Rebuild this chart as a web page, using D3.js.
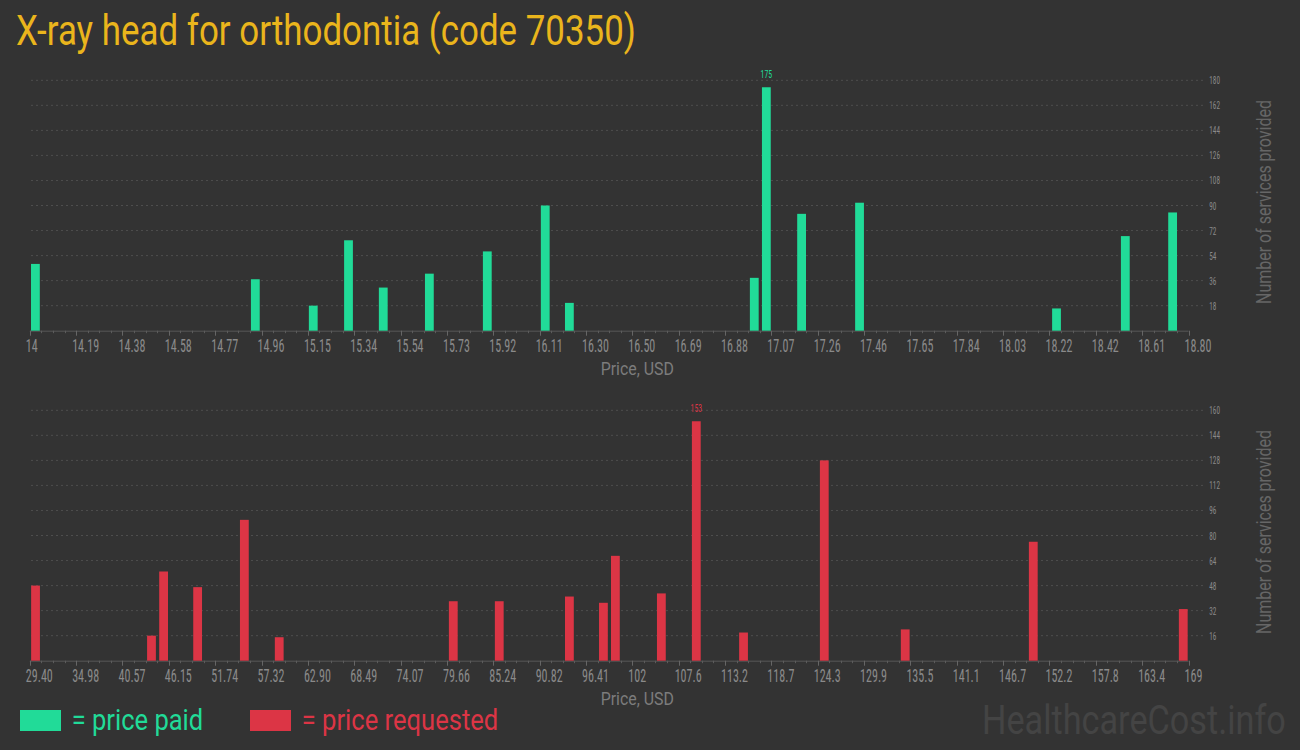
<!DOCTYPE html>
<html>
<head>
<meta charset="utf-8">
<script src="https://cdn.jsdelivr.net/npm/d3@7"></script>
<style>
  html, body { margin: 0; padding: 0; background: #333333; }
  svg { display: block; }
</style>
</head>
<body>
<script>
// ---------------- DATA ----------------
const titleText = "X-ray head for orthodontia (code 70350)";

const paidPrices = [14.005, 14.916, 15.156, 15.302, 15.446, 15.637, 15.877, 16.117, 16.217, 16.983, 17.033, 17.179, 17.419, 18.235, 18.52, 18.716];
const paidCounts = [48, 37, 18, 65, 31, 41, 57, 90, 20, 38, 175, 84, 92, 16, 68, 85];

const reqPrices = [29.56, 43.53, 44.99, 49.09, 54.72, 58.92, 79.89, 85.43, 93.88, 97.98, 99.42, 104.96, 109.17, 114.86, 124.59, 134.34, 149.77, 167.84];
const reqCounts = [48, 16, 57, 47, 90, 15, 38, 38, 41, 37, 67, 43, 153, 18, 128, 20, 76, 33];

const paidDomain = [14, 18.80];
const reqDomain = [29.40, 169];

const paidTickLabels = ["14","14.19","14.38","14.58","14.77","14.96","15.15","15.34","15.54","15.73","15.92","16.11","16.30","16.50","16.69","16.88","17.07","17.26","17.46","17.65","17.84","18.03","18.22","18.42","18.61","18.80"];
const reqTickLabels = ["29.40","34.98","40.57","46.15","51.74","57.32","62.90","68.49","74.07","79.66","85.24","90.82","96.41","102","107.6","113.2","118.7","124.3","129.9","135.5","141.1","146.7","152.2","157.8","163.4","169"];

const paidYMax = 180;
const paidYTicks = [18, 36, 54, 72, 90, 108, 126, 144, 162, 180];
const reqYMax = 160;
const reqYTicks = [16, 32, 48, 64, 80, 96, 112, 128, 144, 160];

const xAxisTitle = "Price, USD";
const yAxisTitle = "Number of services provided";
const legendPaid = "= price paid";
const legendReq = "= price requested";
const watermark = "HealthcareCost.info";

// ---------------- STYLE ----------------
const GREEN = "#21db98";
const RED = "#dc3545";
const GOLD = "#eab51c";
const BG = "#333333";
const COND = "'Roboto Condensed', 'Liberation Sans Narrow', Roboto, 'DejaVu Sans Condensed', sans-serif";
const SANS = "Roboto, 'Noto Sans', 'DejaVu Sans', sans-serif";

const W = 1300, H = 750;
const svg = d3.select("body").append("svg").attr("width", W).attr("height", H);
svg.append("rect").attr("width", W).attr("height", H).attr("fill", BG);

// text measurement helper
function measure(text, family, size) {
  const t = svg.append("text").attr("font-family", family).attr("font-size", size).text(text);
  const w = t.node().getComputedTextLength();
  t.remove();
  return w;
}
// draws a text squeezed horizontally to a target width with a scale transform
function fitText(parent, str, x, y, family, size, width, fill, anchor) {
  const s = width / measure(str, family, size);
  return parent.append("text")
    .attr("transform", `translate(${x},${y}) scale(${s},1)`)
    .attr("text-anchor", anchor || "start")
    .attr("font-family", family).attr("font-size", size)
    .attr("fill", fill).text(str);
}
const xTickScale = 27 / measure("14.19", COND, 18);
const yTickScale = 10.7 / measure("162", COND, 11);
const valScale = 11.5 / measure("175", COND, 10);

function drawPanel(o) {
  const g = svg.append("g");
  const x = d3.scaleLinear().domain(o.domain).range([29.8, 1188.5]);
  const y = d3.scaleLinear().domain([0, o.yMax]).range([o.base, o.top]);

  // gridlines
  g.selectAll("line.grid").data(o.yTicks).enter().append("line")
    .attr("x1", 31).attr("x2", 1205)
    .attr("y1", d => y(d)).attr("y2", d => y(d))
    .attr("stroke", "#4e4e4e").attr("stroke-width", 1)
    .attr("stroke-dasharray", "2,3");

  // y tick labels
  g.selectAll("text.ytick").data(o.yTicks).enter().append("text")
    .attr("transform", d => `translate(1209.3,${y(d) + 4}) scale(${yTickScale},1)`)
    .attr("font-family", COND).attr("font-size", 11)
    .attr("fill", "#8a8a8a").text(d => d);

  // x axis
  const n = o.tickLabels.length - 1;
  const step = (o.domain[1] - o.domain[0]) / n;
  const majors = d3.range(n + 1).map(i => o.domain[0] + i * step);
  const minors = [];
  for (let i = 0; i < n; i++) for (let k = 1; k < 4; k++) minors.push(o.domain[0] + (i + k / 4) * step);

  g.append("line").attr("x1", x(o.domain[0])).attr("x2", x(o.domain[1]))
    .attr("y1", o.base + 0.5).attr("y2", o.base + 0.5)
    .attr("stroke", "#575757").attr("stroke-width", 1);
  g.selectAll("line.maj").data(majors).enter().append("line")
    .attr("x1", d => Math.round(x(d)) + 0.5).attr("x2", d => Math.round(x(d)) + 0.5)
    .attr("y1", o.base).attr("y2", o.base + 5)
    .attr("stroke", "#666").attr("stroke-width", 1);
  g.selectAll("line.min").data(minors).enter().append("line")
    .attr("x1", d => Math.round(x(d)) + 0.5).attr("x2", d => Math.round(x(d)) + 0.5)
    .attr("y1", o.base).attr("y2", o.base + 2.5)
    .attr("stroke", "#5c5c5c").attr("stroke-width", 1);
  g.selectAll("text.xtick").data(majors).enter().append("text")
    .attr("transform", d => `translate(${x(d) - 4},${o.base + 21.5}) scale(${xTickScale},1)`)
    .attr("font-family", COND).attr("font-size", 18)
    .attr("fill", "#8a8a8a").text((d, i) => o.tickLabels[i]);

  // bars
  const bw = 8.8;
  const data = o.prices.map((p, i) => ({ p, v: o.counts[i] }));
  g.selectAll("rect.bar").data(data).enter().append("rect")
    .attr("x", d => x(d.p)).attr("width", bw)
    .attr("y", d => y(d.v)).attr("height", d => o.base - y(d.v))
    .attr("fill", o.color);

  // max label
  const mx = data.reduce((a, b) => (b.v > a.v ? b : a));
  g.append("text")
    .attr("transform", `translate(${x(mx.p) + bw / 2},${y(mx.v) - 9.5}) scale(${valScale},1)`)
    .attr("text-anchor", "middle")
    .attr("font-family", COND).attr("font-size", 10)
    .attr("fill", o.color).text(mx.v);

  // axis titles
  fitText(g, xAxisTitle, 600.7, o.base + 44.5, SANS, 18.5, 73.3, "#7c7c7c");
  const s = 204 / measure(yAxisTitle, SANS, 20);
  g.append("text")
    .attr("transform", `translate(1270.5,${o.yTitleC}) rotate(-90) scale(${s},1)`)
    .attr("text-anchor", "middle")
    .attr("font-family", SANS).attr("font-size", 20)
    .attr("fill", "#666666").text(yAxisTitle);
}

drawPanel({ domain: paidDomain, tickLabels: paidTickLabels, prices: paidPrices, counts: paidCounts,
  yMax: paidYMax, yTicks: paidYTicks, base: 330.7, top: 80.3, color: GREEN, yTitleC: 202 });
drawPanel({ domain: reqDomain, tickLabels: reqTickLabels, prices: reqPrices, counts: reqCounts,
  yMax: reqYMax, yTicks: reqYTicks, base: 660.7, top: 410.3, color: RED, yTitleC: 532 });

// title
fitText(svg, titleText, 16, 45, SANS, 42, 620, GOLD);

// legend
svg.append("rect").attr("x", 20).attr("y", 710).attr("width", 41).attr("height", 21).attr("fill", GREEN);
fitText(svg, legendPaid, 71.7, 730, SANS, 29, 131.6, GREEN);
svg.append("rect").attr("x", 250).attr("y", 710).attr("width", 41).attr("height", 21).attr("fill", RED);
fitText(svg, legendReq, 301.7, 730, SANS, 29, 196.7, RED);

// watermark
fitText(svg, watermark, 982, 734, SANS, 40, 304, "#444444");
</script>
</body>
</html>
